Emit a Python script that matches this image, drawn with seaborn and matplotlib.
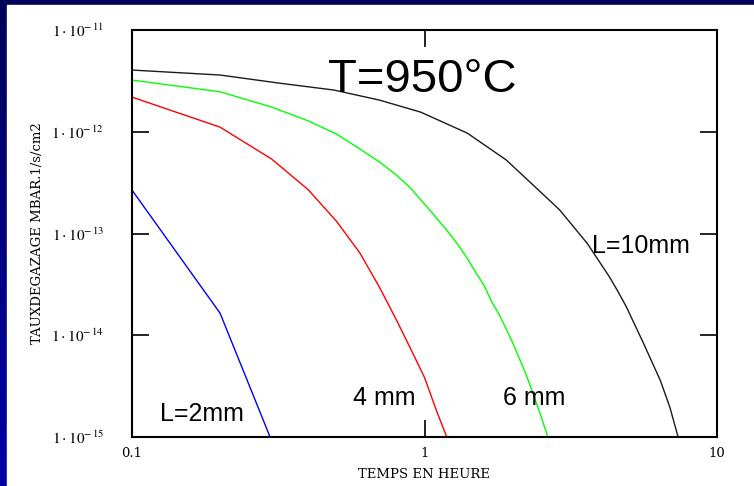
import numpy as np
import pandas as pd
import matplotlib
matplotlib.use("Agg")
import matplotlib.pyplot as plt
import matplotlib.ticker as mticker
from matplotlib.colors import LinearSegmentedColormap
import seaborn as sns

# ---- data ----
t_blue = [0.1, 0.2, 0.3]
v_blue = [2.67e-13, 1.65e-14, 9.2e-16]

t_red = [0.1, 0.2, 0.3, 0.4, 0.5, 0.6, 0.7, 0.8, 0.9, 1.0, 1.1, 1.2]
v_red = [2.19e-12, 1.11e-12, 5.4e-13, 2.7e-13, 1.32e-13, 6.5e-14, 3.0e-14,
         1.43e-14, 7.2e-15, 3.85e-15, 1.8e-15, 9.5e-16]

t_green = [0.1, 0.2, 0.3, 0.4, 0.5, 0.6, 0.7, 0.8, 0.9, 1.0, 1.1, 1.2, 1.3,
           1.4, 1.5, 1.6, 1.7, 1.8, 1.9, 2.0, 2.1, 2.2, 2.3, 2.4, 2.5, 2.6, 2.7]
v_green = [3.22e-12, 2.47e-12, 1.75e-12, 1.28e-12, 9.5e-13, 6.8e-13, 5.07e-13,
           3.78e-13, 2.76e-13, 1.95e-13, 1.42e-13, 1.05e-13, 7.8e-14, 5.7e-14,
           4.1e-14, 3.07e-14, 2.11e-14, 1.6e-14, 1.16e-14, 8.5e-15, 6.1e-15,
           4.45e-15, 3.18e-15, 2.25e-15, 1.61e-15, 1.15e-15, 8.0e-16]

t_black = [0.1, 0.2, 0.32, 0.49, 0.7, 0.97, 1.4, 1.9, 2.35, 2.9, 3.6, 4.3,
           4.55, 4.9, 5.6, 6.4, 6.9, 7.4]
v_black = [4.04e-12, 3.61e-12, 3.0e-12, 2.57e-12, 2.05e-12, 1.56e-12, 9.7e-13,
           5.3e-13, 3.0e-13, 1.7e-13, 8.0e-14, 3.7e-14, 2.8e-14, 1.9e-14,
           8.4e-15, 3.6e-15, 1.96e-15, 9.5e-16]

series_names = ["L=2mm", "4 mm", "6 mm", "L=10mm"]
series_colors = ["#0000ff", "#ff0000", "#00ff00", "#1a1a1a"]

x_ticks = [0.1, 1, 10]
x_ticklabels = ["0.1", "1", "10"]
y_ticks = [1e-15, 1e-14, 1e-13, 1e-12, 1e-11]
y_ticklabels = [r"$1\cdot10^{-\,15}$", r"$1\cdot10^{-\,14}$", r"$1\cdot10^{-\,13}$",
                r"$1\cdot10^{-\,12}$", r"$1\cdot10^{-\,11}$"]

title_text = "T=950°C"
x_label = "TEMPS EN HEURE"
y_label = "TAUXDEGAZAGE MBAR.1/s/cm2"

frames = []
for name, t, v in zip(series_names, [t_blue, t_red, t_green, t_black],
                      [v_blue, v_red, v_green, v_black]):
    frames.append(pd.DataFrame({"t": t, "v": v, "serie": name}))
df = pd.concat(frames, ignore_index=True)

# ---- figure ----
sns.set_style("ticks")
plt.rcParams["mathtext.fontset"] = "stix"
plt.rcParams["text.color"] = "black"
plt.rcParams["axes.labelcolor"] = "black"
plt.rcParams["xtick.color"] = "black"
plt.rcParams["ytick.color"] = "black"

W, H = 754, 486
fig = plt.figure(figsize=(W / 100, H / 100), dpi=100)

# background gradient (navy)
bg = fig.add_axes([0, 0, 1, 1], zorder=-10)
cmap = LinearSegmentedColormap.from_list("bg", ["#000058", "#0000a8"])
grad = np.linspace(0, 1, 256).reshape(-1, 1)
bg.imshow(grad, aspect="auto", cmap=cmap, extent=[0, 1, 0, 1], origin="upper")
bg.add_patch(plt.Rectangle((7 / W, 0), 1 - 7 / W, 1 - 5 / H, color="white"))
bg.set_xlim(0, 1)
bg.set_ylim(0, 1)
bg.axis("off")

L, R, T, B = 132, 717, 30, 437
ax = fig.add_axes([L / W, 1 - B / H, (R - L) / W, (B - T) / H])
ax.set_facecolor("white")

sns.lineplot(data=df, x="t", y="v", hue="serie", palette=series_colors,
             hue_order=series_names, estimator=None, sort=False,
             linewidth=1.0, legend=False, ax=ax)

ax.set_xscale("log")
ax.set_yscale("log")
ax.set_xlim(0.1, 10)
ax.set_ylim(1e-15, 1e-11)

ax.xaxis.set_major_locator(mticker.FixedLocator(x_ticks))
ax.xaxis.set_minor_locator(mticker.NullLocator())
ax.yaxis.set_major_locator(mticker.FixedLocator(y_ticks))
ax.yaxis.set_minor_locator(mticker.NullLocator())
ax.set_xticklabels(x_ticklabels, family="DejaVu Serif", fontsize=9.5)
ax.set_yticklabels(y_ticklabels, fontsize=11)

ax.tick_params(axis="both", which="major", direction="in", length=12,
               width=1.2, color="black", top=True, right=True)
ax.tick_params(axis="x", pad=7)
ax.tick_params(axis="y", pad=20)
for s in ax.spines.values():
    s.set_linewidth(1.5)
    s.set_color("black")

ax.set_xlabel(x_label, family="DejaVu Serif", fontsize=9.5, labelpad=6)
ax.set_ylabel(y_label, family="DejaVu Serif", fontsize=9.5, labelpad=5)

sans = ["Liberation Sans", "DejaVu Sans"]
ax.text(0.335, 0.848, title_text, transform=ax.transAxes, fontsize=34,
        family=sans, ha="left", va="baseline")
ax.text(0.786, 0.452, "L=10mm", transform=ax.transAxes, fontsize=18,
        family=sans, ha="left", va="baseline")
ax.text(0.048, 0.039, "L=2mm", transform=ax.transAxes, fontsize=18,
        family=sans, ha="left", va="baseline")
ax.text(0.378, 0.079, "4 mm", transform=ax.transAxes, fontsize=18,
        family=sans, ha="left", va="baseline")
ax.text(0.634, 0.079, "6 mm", transform=ax.transAxes, fontsize=18,
        family=sans, ha="left", va="baseline")

fig.savefig("out.png", dpi=100)
